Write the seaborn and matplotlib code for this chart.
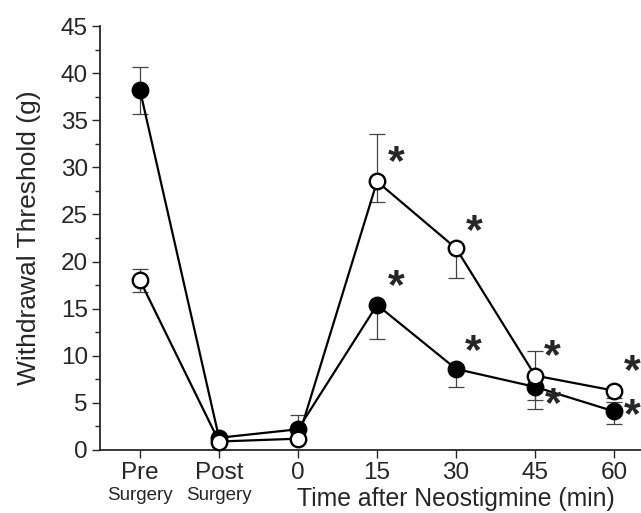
import numpy as np
import matplotlib
matplotlib.use("Agg")
import matplotlib.pyplot as plt
import matplotlib.transforms as mtransforms
from matplotlib.ticker import MultipleLocator
import seaborn as sns

# data
time_labels = ["Pre", "Post", "0", "15", "30", "45", "60"]
filled_mean = [38.2, 1.3, 2.2, 15.4, 8.6, 6.7, 4.1]
filled_err_lo = [2.5, 0.0, 0.0, 3.6, 1.9, 2.3, 1.3]
filled_err_hi = [2.5, 0.0, 1.5, 0.0, 0.0, 0.0, 1.0]
open_mean = [18.0, 0.9, 1.2, 28.5, 21.4, 7.9, 6.3]
open_err_lo = [1.2, 0.0, 0.0, 2.2, 3.1, 2.6, 0.8]
open_err_hi = [1.2, 0.0, 0.0, 5.0, 0.0, 2.6, 0.0]
# significance stars (1 = marked)
filled_sig = [0, 0, 0, 1, 1, 1, 1]
open_sig = [0, 0, 0, 1, 1, 1, 1]

sns.set_style("ticks")
plt.rcParams["font.family"] = ["Liberation Sans", "DejaVu Sans"]

fig = plt.figure(figsize=(6.41, 5.13), dpi=100)
ax = fig.add_axes([100 / 641, 63 / 513, 541 / 641, 424 / 513])

x = np.arange(len(time_labels))
px = 0.72  # points per pixel at 100 dpi

# error bars first (thin grey)
for mean, lo, hi in [(filled_mean, filled_err_lo, filled_err_hi),
                     (open_mean, open_err_lo, open_err_hi)]:
    ax.errorbar(x, mean, yerr=[lo, hi], fmt="none", ecolor="#444444",
                elinewidth=0.9, capsize=8 * px, capthick=0.9, zorder=1,
                clip_on=False)

sns.lineplot(x=x, y=filled_mean, ax=ax, color="black", linewidth=1.6,
             marker="o", markersize=15.5 * px, markerfacecolor="black",
             markeredgecolor="black", markeredgewidth=1.7, zorder=3,
             clip_on=False)
sns.lineplot(x=x, y=open_mean, ax=ax, color="black", linewidth=1.6,
             marker="o", markersize=15.5 * px, markerfacecolor="white",
             markeredgecolor="black", markeredgewidth=1.7, zorder=4,
             clip_on=False)

# stars, offset in pixels from the point
filled_star_off = {3: (19, 25), 4: (17, 24), 5: (18, -11), 6: (18, 2)}
open_star_off = {3: (19, 25), 4: (18, 23), 5: (17, 25), 6: (18, 25)}
for mean, sig, offs in [(filled_mean, filled_sig, filled_star_off),
                        (open_mean, open_sig, open_star_off)]:
    for i, (m, s) in enumerate(zip(mean, sig)):
        if s:
            dx, dy = offs[i]
            ax.annotate("*", (x[i], m), xytext=(dx * px, dy * px - 5),
                        textcoords="offset points", ha="center", va="center",
                        fontsize=31, fontweight="bold", annotation_clip=False)

ax.set_xlim(-0.506, 6.34)
ax.set_ylim(0, 45)
ax.yaxis.set_major_locator(MultipleLocator(5))
ax.yaxis.set_minor_locator(MultipleLocator(2.5))
ax.set_xticks(x)
ax.set_xticklabels(time_labels, fontsize=17.5)
ax.tick_params(axis="y", labelsize=17.5, length=8 * px, width=1, pad=3)
ax.tick_params(axis="y", which="minor", length=5 * px, width=1)
ax.tick_params(axis="x", length=8 * px, width=1, pad=3)
for sp in ["left", "bottom"]:
    ax.spines[sp].set_linewidth(1.3)
sns.despine(ax=ax)

ax.set_ylabel("Withdrawal Threshold (g)", fontsize=19, labelpad=14)

trans = mtransforms.blended_transform_factory(ax.transData, fig.transFigure)
for i in [0, 1]:
    ax.text(x[i], 1 - 495 / 513, "Surgery", transform=trans, ha="center",
            va="center", fontsize=13.5)
ax.text(x[4], 1 - 499 / 513, "Time after Neostigmine (min)", transform=trans,
        ha="center", va="center", fontsize=17.8)

fig.savefig("out.png", dpi=100)
